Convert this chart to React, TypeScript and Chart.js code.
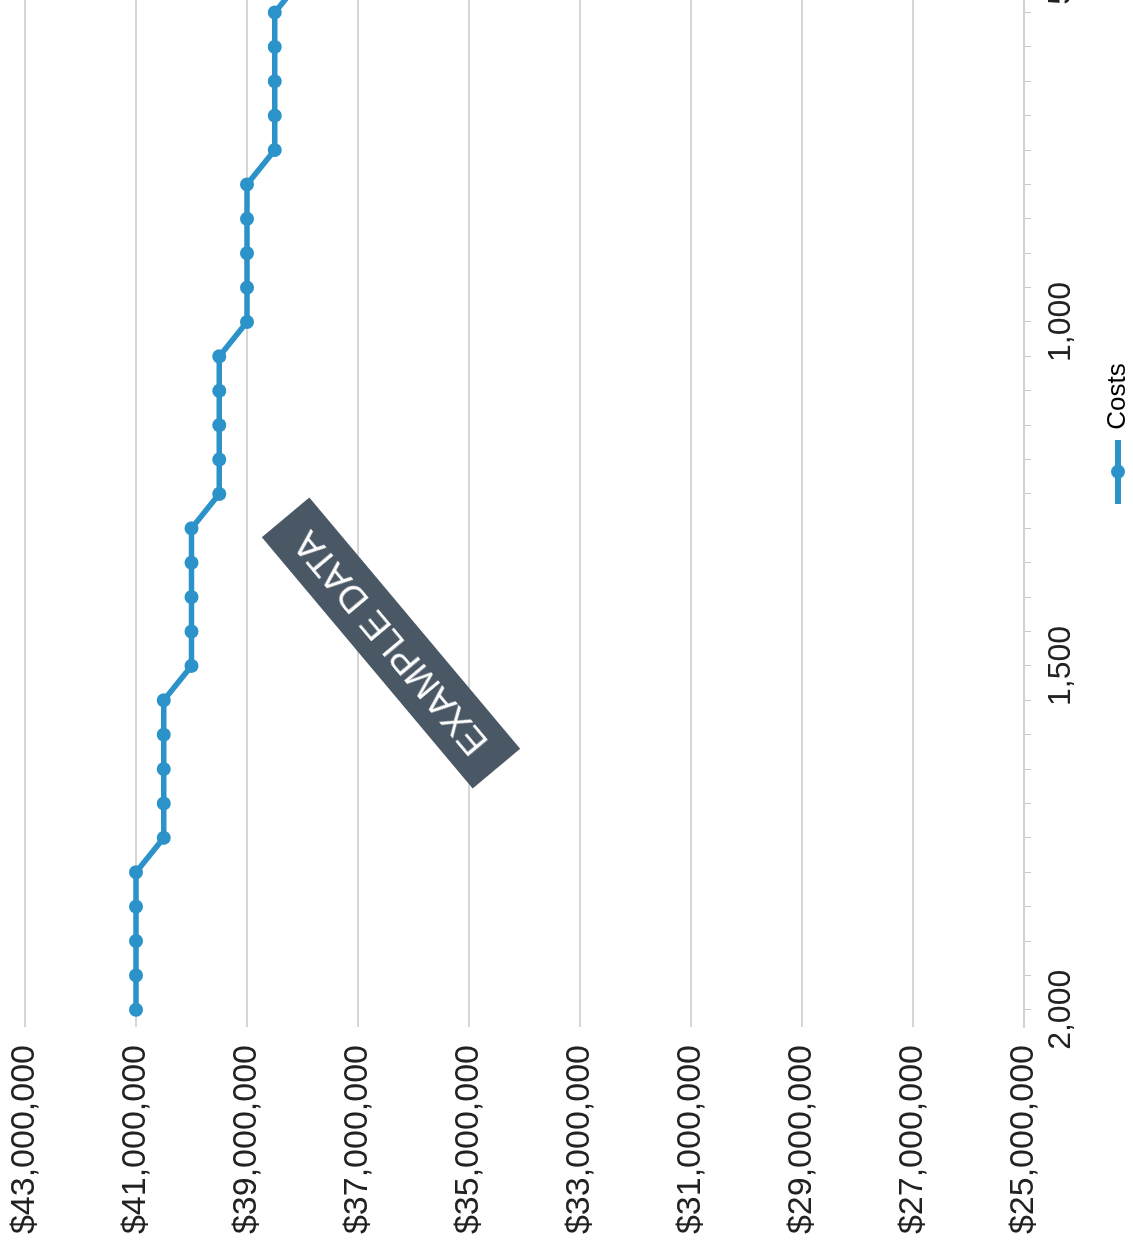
import React, { useEffect, useRef } from "react";
import { Chart, registerables } from "chart.js";

Chart.register(...registerables);

// Category axis (units), shown reversed from 2,000 down to 0
const categories = [
  2000, 1950, 1900, 1850, 1800, 1750, 1700, 1650, 1600, 1550,
  1500, 1450, 1400, 1350, 1300, 1250, 1200, 1150, 1100, 1050,
  1000, 950, 900, 850, 800, 750, 700, 650, 600, 550,
  500, 450, 400, 350, 300, 250, 200, 150, 100, 50, 0,
];

// Costs series (values beyond the visible part of the picture are unknown)
const costs: (number | null)[] = [
  41000000, 41000000, 41000000, 41000000, 41000000,
  40500000, 40500000, 40500000, 40500000, 40500000,
  40000000, 40000000, 40000000, 40000000, 40000000,
  39500000, 39500000, 39500000, 39500000, 39500000,
  39000000, 39000000, 39000000, 39000000, 39000000,
  38500000, 38500000, 38500000, 38500000, 38500000,
  38000000, null, null, null, null, null, null, null, null, null, null,
];

// Value-axis ticks
const yTicks = [25000000, 27000000, 29000000, 31000000, 33000000, 35000000, 37000000, 39000000, 41000000, 43000000];
// Category labels shown on the axis
const xLabelShown = [2000, 1500, 1000, 500, 0];

const FONT = "'Liberation Sans', Arial, sans-serif";
const LINE = "#2b93c9";
const CW = 1650; // canvas width (original orientation)
const CH = 1141; // canvas height (original orientation)

function makeMarker(): HTMLCanvasElement {
  const c = document.createElement("canvas");
  c.width = 64;
  c.height = 16;
  const g = c.getContext("2d")!;
  g.strokeStyle = LINE;
  g.lineWidth = 6;
  g.beginPath();
  g.moveTo(0, 8);
  g.lineTo(64, 8);
  g.stroke();
  g.fillStyle = LINE;
  g.beginPath();
  g.arc(32, 8, 7, 0, Math.PI * 2);
  g.fill();
  return c;
}

export default function App() {
  const ref = useRef<HTMLCanvasElement | null>(null);

  useEffect(() => {
    if (!ref.current) return;
    const marker = makeMarker();
    const chart = new Chart(ref.current, {
      type: "line",
      data: {
        labels: categories.map((c) => String(c)),
        datasets: [
          {
            label: "Costs",
            data: costs,
            borderColor: LINE,
            backgroundColor: LINE,
            borderWidth: 5.5,
            pointRadius: 7,
            pointBackgroundColor: LINE,
            pointBorderWidth: 0,
            tension: 0,
            spanGaps: false,
          },
        ],
      },
      options: {
        animation: false,
        responsive: false,
        devicePixelRatio: 1,
        layout: { padding: { top: 25, right: 20, bottom: 0, left: 0 } },
        plugins: {
          tooltip: { enabled: false },
          legend: {
            position: "bottom",
            labels: {
              usePointStyle: true,
              pointStyleWidth: 58,
              boxHeight: 26,
              padding: 2,
              color: "#222",
              font: { size: 26, family: FONT },
              generateLabels: () => [
                {
                  text: "Costs",
                  pointStyle: marker as any,
                  fillStyle: LINE,
                  strokeStyle: LINE,
                  lineWidth: 0,
                  hidden: false,
                  datasetIndex: 0,
                } as any,
              ],
            },
          },
        },
        scales: {
          x: {
            type: "category",
            offset: true,
            afterFit: (s: any) => {
              s.height = 79;
            },
            grid: {
              offset: false,
              drawOnChartArea: false,
              drawTicks: true,
              tickLength: 7,
              color: "#c8c8c8",
              lineWidth: 1,
            },
            border: { display: true, color: "#d2d2d2", width: 2 },
            ticks: {
              autoSkip: false,
              maxRotation: 0,
              minRotation: 0,
              padding: 11,
              color: "#222",
              font: { size: 32, family: FONT },
              callback: (_v: any, i: number) =>
                xLabelShown.includes(categories[i]) ? categories[i].toLocaleString("en-US") : "",
            },
          },
          y: {
            min: yTicks[0],
            max: yTicks[yTicks.length - 1],
            afterFit: (s: any) => {
              s.width = 220;
              s.paddingTop = 0;
              s.paddingBottom = 0;
            },
            afterBuildTicks: (s: any) => {
              s.ticks = yTicks.map((v) => ({ value: v }));
            },
            grid: { color: "#d6d6d6", lineWidth: 2, drawTicks: false },
            border: { display: false },
            ticks: {
              padding: 18,
              color: "#222",
              font: { size: 34, family: FONT },
              callback: (v: any) => "$" + Number(v).toLocaleString("en-US"),
            },
          },
        },
      },
    });
    return () => chart.destroy();
  }, []);

  return (
    <div
      style={{
        position: "fixed",
        left: 0,
        top: 0,
        width: 1133,
        height: 1247,
        overflow: "hidden",
        background: "#fff",
      }}
    >
      <div
        style={{
          position: "absolute",
          left: 0,
          top: 0,
          width: CW,
          height: CH,
          transformOrigin: "0 0",
          transform: "translateY(1247px) rotate(-90deg)",
        }}
      >
        <canvas
          ref={ref}
          width={CW}
          height={CH}
          style={{ position: "absolute", left: 0, top: 0, width: CW, height: CH }}
        />
        <div
          style={{
            position: "absolute",
            left: 603.7 - 164,
            top: 390.8 - 31,
            width: 328,
            height: 62,
            background: "#4a5866",
            color: "#fff",
            fontFamily: FONT,
            fontSize: 37,
            display: "flex",
            alignItems: "center",
            justifyContent: "center",
            transform: "rotate(-40deg)",
            whiteSpace: "nowrap",
          }}
        >
          EXAMPLE DATA
        </div>
      </div>
    </div>
  );
}
